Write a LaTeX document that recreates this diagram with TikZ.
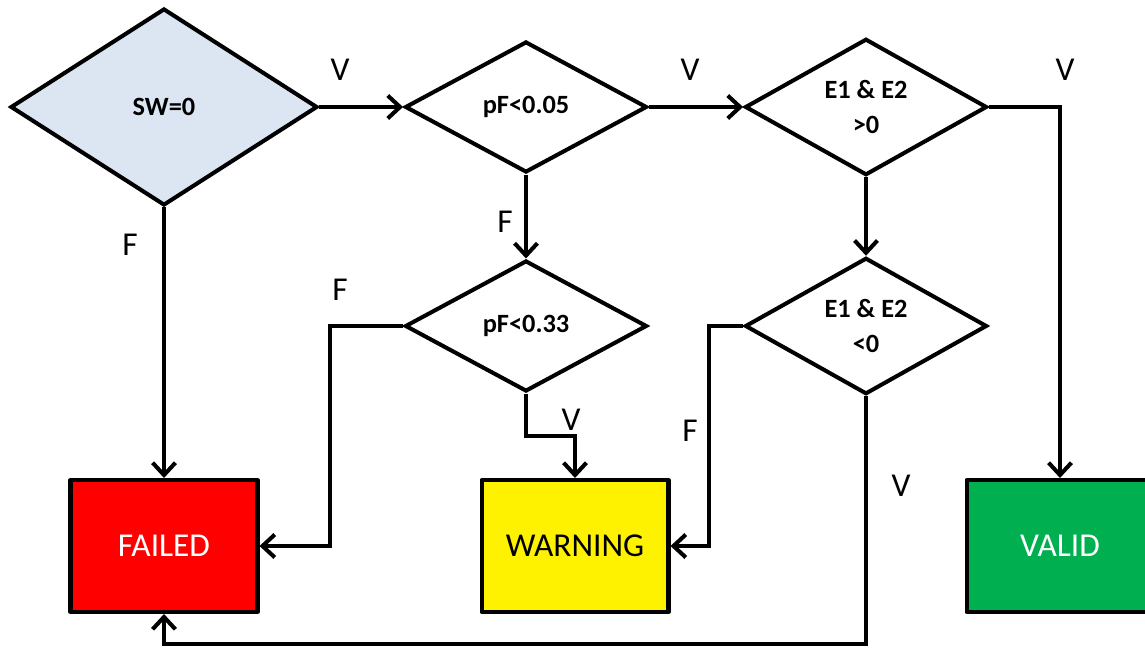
\documentclass[tikz,border=0pt]{standalone}
\usepackage{fontspec}
\setmainfont{Carlito}
\usetikzlibrary{shapes.geometric,arrows.meta}
\definecolor{swblue}{RGB}{220,230,242}
\definecolor{validgreen}{RGB}{0,176,80}
\begin{document}
\begin{tikzpicture}[x=0.02cm,y=-0.02cm,
  dec/.style={diamond,draw=black,line width=2.3pt,inner sep=0pt,align=center,
    minimum width=4.84cm,minimum height=2.62cm,
    font=\fontsize{15}{20}\selectfont\bfseries},
  outbox/.style={rectangle,draw=black,line width=2.3pt,line join=round,
    minimum width=3.74cm,minimum height=2.64cm,
    font=\fontsize{19}{22}\selectfont},
  conn/.style={line width=2.3pt,-{Straight Barb[length=7pt,width=13pt,line width=2.3pt]}},
  lab/.style={font=\fontsize{19}{22}\selectfont,inner sep=0pt}]
\useasboundingbox[fill=white] (0,0) rectangle (1145,648);

% decisions
\node[dec,fill=swblue,minimum width=6.14cm,minimum height=3.94cm] (sw) at (164,107) {SW=0};
\node[dec] (p1) at (526,107) {pF<0.05};
\node[dec] (e1) at (866,107) {E1 \& E2\\>0};
\node[dec] (p2) at (526,326) {pF<0.33};
\node[dec] (e2) at (866,326) {E1 \& E2\\<0};

% outcomes
\node[outbox,fill=red,text=white] (fail) at (164,546) {FAILED};
\node[outbox,fill=yellow] (warn) at (575,546) {WARNING};
\node[outbox,fill=validgreen,text=white] (valid) at (1060,546) {VALID};

% bend points
\coordinate (k1) at (330,326);
\coordinate (k2) at (575,436);
\coordinate (k3) at (709,326);
\coordinate (k4) at (866,644);

% connectors
\draw[conn] (sw.east) -- (p1.west);
\draw[conn] (p1.east) -- (e1.west);
\draw[conn] (e1.east) -| (valid.north);
\draw[conn] (sw.south) -- (fail.north);
\draw[conn] (p1.south) -- (p2.north);
\draw[conn] (e1.south) -- (e2.north);
\draw[conn] (p2.west) -- (k1) |- (fail.east);
\draw[conn] (p2.south) |- (k2) -- (warn.north);
\draw[conn] (e2.west) -- (k3) |- (warn.east);
\draw[conn] (e2.south) -- (k4) -| (fail.south);

% labels
\node[lab] (l1) at (340,70) {V};
\node[lab] (l2) at (690,70) {V};
\node[lab] (l3) at (1065,70) {V};
\node[lab] (l4) at (130,245) {F};
\node[lab] (l5) at (505,222) {F};
\node[lab] (l6) at (340,290) {F};
\node[lab] (l7) at (571,420) {V};
\node[lab] (l8) at (690,431) {F};
\node[lab] (l9) at (901,486) {V};
\end{tikzpicture}
\end{document}
